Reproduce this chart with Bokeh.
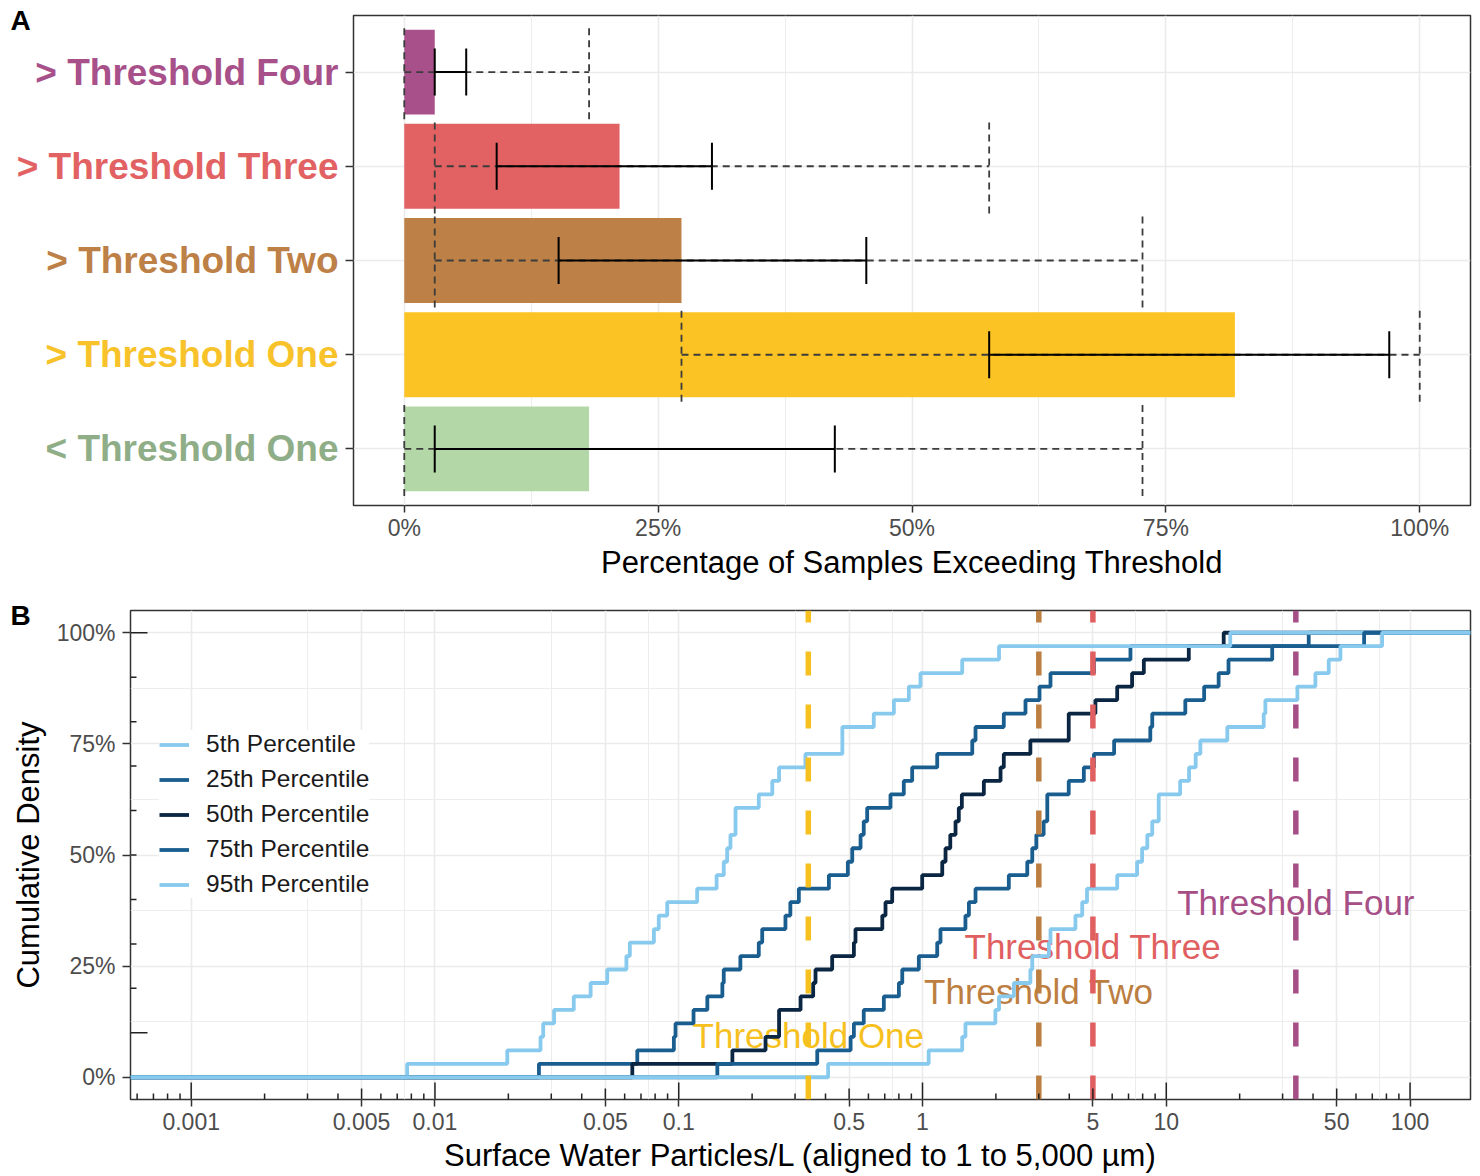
import numpy as np
from bokeh.plotting import figure
from bokeh.models import (Range1d, FixedTicker, Legend, LegendItem,
                          CustomJSTickFormatter)
from bokeh.layouts import column, row
from bokeh.embed import file_html
from bokeh.resources import INLINE
from bokeh.core.properties import value

FONT = "Liberation Sans"

# ---------------- Panel A data ----------------
categories = ["> Threshold Four", "> Threshold Three", "> Threshold Two",
              "> Threshold One", "< Threshold One"]          # top to bottom
bar_pct   = [3.0, 21.2, 27.3, 81.8, 18.2]
iqr_lo    = [3.0, 9.1, 15.2, 57.6, 3.0]
iqr_hi    = [6.1, 30.3, 45.5, 97.0, 42.4]
range_lo  = [0.0, 3.0, 3.0, 27.3, 0.0]
range_hi  = [18.2, 57.6, 72.7, 100.0, 72.7]
bar_colors   = ["#A7508A", "#E26263", "#BD8046", "#FBC324", "#B4D7A8"]
label_colors = ["#A7508A", "#E26263", "#BD8046", "#F7C22A", "#8FAE87"]
a_ticks = [0, 25, 50, 75, 100]
a_minor = [12.5, 37.5, 62.5, 87.5]

# ---------------- Panel B data ----------------
threshold_names  = ["Threshold One", "Threshold Two", "Threshold Three", "Threshold Four"]
threshold_values = [0.34, 3.0, 5.0, 34.0]
threshold_label_y = [10, 20, 30, 40]
threshold_colors = ["#F6C11F", "#BC7E41", "#E05F60", "#A64F87"]

p5  = [0.00769, 0.0198, 0.0271, 0.0278, 0.0308, 0.0371, 0.0435, 0.0509, 0.061, 0.063,
       0.0791, 0.0828, 0.0897, 0.119, 0.143, 0.153, 0.158, 0.163, 0.171, 0.171,
       0.213, 0.242, 0.258, 0.331, 0.469, 0.469, 0.631, 0.763, 0.879, 0.981,
       1.455, 2.06, 18.3]
p25 = [0.0267, 0.0676, 0.0955, 0.097, 0.115, 0.131, 0.151, 0.153, 0.179, 0.213,
       0.22, 0.274, 0.287, 0.311, 0.413, 0.494, 0.515, 0.557, 0.574, 0.593,
       0.739, 0.838, 0.907, 1.149, 1.60, 1.65, 2.155, 2.645, 3.02, 3.35,
       5.05, 7.13, 38.4]
p50 = [0.0645, 0.166, 0.227, 0.258, 0.258, 0.316, 0.356, 0.364, 0.426, 0.523,
       0.531, 0.684, 0.705, 0.751, 0.997, 1.205, 1.243, 1.30, 1.366, 1.409,
       1.45, 1.785, 2.09, 2.155, 2.77, 3.98, 3.98, 5.12, 6.29, 7.24,
       8.09, 12.37, 17.2]
p75 = [0.144, 0.370, 0.507, 0.523, 0.574, 0.694, 0.80, 0.826, 0.966, 1.149,
       1.185, 1.50, 1.55, 1.65, 2.26, 2.69, 2.82, 2.93, 3.14, 3.25,
       3.25, 3.98, 4.59, 5.05, 6.11, 8.6, 8.76, 11.97, 14.3, 16.4,
       18.0, 27.2, 64.8]
p95 = [0.41, 1.06, 1.455, 1.50, 1.99, 2.06, 2.37, 2.77, 2.82, 3.30,
       3.35, 4.24, 4.52, 4.73, 6.29, 7.59, 7.96, 8.36, 8.76, 9.31,
       9.31, 11.4, 12.4, 13.2, 13.8, 17.8, 25.1, 25.5, 34.5, 40.9,
       46.4, 51.8, 76.8]
series_names  = ["5th Percentile", "25th Percentile", "50th Percentile",
                 "75th Percentile", "95th Percentile"]
series_values = [p5, p25, p50, p75, p95]
series_colors = ["#88C9EE", "#1A5E90", "#0B2642", "#1A5E90", "#88C9EE"]
draw_order = [1, 2, 0, 3, 4]

b_xticks = [0.001, 0.005, 0.01, 0.05, 0.1, 0.5, 1, 5, 10, 50, 100]
b_xminor = [0.003, 0.0075, 0.03, 0.075, 0.3, 0.75, 3, 7.5, 30, 75]
b_yticks = [0, 25, 50, 75, 100]
b_yminor = [12.5, 37.5, 62.5, 87.5]
b_yinner = [10, 20, 30, 40, 50, 60, 70, 80, 90, 100]
b_ytitle = "Cumulative Density"

GRID = "#EBEBEB"
DARK = "#333333"
TICKTXT = "#4D4D4D"
W = 1478


def no_frame_align(p):
    try:
        p.frame_align = False
    except Exception:
        pass


def strip(width, height, ylo_, yhi_):
    """A text strip whose frame is its whole canvas."""
    s = figure(width=width, height=height, output_backend="svg", toolbar_location=None,
               x_range=Range1d(0, width), y_range=Range1d(ylo_, yhi_),
               x_axis_location=None, y_axis_location=None,
               min_border_left=0, min_border_right=0, min_border_top=0,
               min_border_bottom=0)
    no_frame_align(s)
    s.outline_line_color = None
    s.grid.visible = False
    s.background_fill_color = "white"
    s.border_fill_color = "white"
    return s


# ================= Panel A =================
HA = 592
LAB_W = 340
A_LEFT, A_TOP, A_FW, A_FH = 13, 15, 1117, 490
n = len(categories)
ypos = [n - i for i in range(n)]
ax_lo, ax_hi = -5, 105
ay_lo, ay_hi = 0.4, n + 0.6
pA = figure(width=W - LAB_W, height=HA, output_backend="svg", toolbar_location=None,
            x_range=Range1d(ax_lo, ax_hi), y_range=Range1d(ay_lo, ay_hi),
            min_border_left=A_LEFT, min_border_right=W - LAB_W - A_LEFT - A_FW,
            min_border_top=A_TOP, min_border_bottom=HA - A_TOP - A_FH)
no_frame_align(pA)
pA.outline_line_color = DARK
pA.outline_line_width = 1.5
pA.background_fill_color = "white"
pA.border_fill_color = "white"

pA.xaxis.ticker = FixedTicker(ticks=a_ticks, minor_ticks=a_minor)
pA.xgrid.ticker = FixedTicker(ticks=a_ticks, minor_ticks=a_minor)
pA.xgrid.grid_line_color = GRID
pA.xgrid.grid_line_width = 1.6
pA.xgrid.minor_grid_line_color = GRID
pA.xgrid.minor_grid_line_width = 0.9
pA.yaxis.ticker = FixedTicker(ticks=ypos)
pA.ygrid.ticker = FixedTicker(ticks=ypos)
pA.ygrid.grid_line_color = GRID
pA.ygrid.grid_line_width = 1.6
pA.yaxis.major_label_overrides = {y: "" for y in ypos}
pA.yaxis.major_label_standoff = 0

pA.xaxis.formatter = CustomJSTickFormatter(code="return tick + '%'")
for ax in (pA.xaxis[0], pA.yaxis[0]):
    ax.axis_line_color = None
    ax.major_tick_line_color = DARK
    ax.major_tick_line_width = 1.5
    ax.major_tick_in = 0
    ax.minor_tick_line_color = None
    ax.major_label_text_font = FONT
    ax.major_label_text_color = TICKTXT
    ax.major_label_text_font_size = "23px"
pA.xaxis.major_tick_out = 7
pA.yaxis.major_tick_out = 8
pA.xaxis.major_label_standoff = 2
pA.xaxis.axis_label = "Percentage of Samples Exceeding Threshold"
pA.xaxis.axis_label_text_font = FONT
pA.xaxis.axis_label_text_font_size = "31px"
pA.xaxis.axis_label_text_font_style = "normal"
pA.xaxis.axis_label_text_color = "black"
pA.xaxis.axis_label_standoff = 1

pA.hbar(y=ypos, left=0, right=bar_pct, height=0.9, fill_color=bar_colors,
        line_color=None)
# full range (dashed)
pA.segment(x0=range_lo, y0=ypos, x1=range_hi, y1=ypos, line_color="#3C3C3C",
           line_width=1.8, line_dash="7 5")
for xs in (range_lo, range_hi):
    pA.segment(x0=xs, y0=[y - 0.5 for y in ypos], x1=xs, y1=[y + 0.5 for y in ypos],
               line_color="#3C3C3C", line_width=1.8, line_dash="7 5")
# inter-quartile (solid)
pA.segment(x0=iqr_lo, y0=ypos, x1=iqr_hi, y1=ypos, line_color="black", line_width=2)
for xs in (iqr_lo, iqr_hi):
    pA.segment(x0=xs, y0=[y - 0.25 for y in ypos], x1=xs, y1=[y + 0.25 for y in ypos],
               line_color="black", line_width=2)

# label strip sharing panel A's vertical scale
a_px_y = A_FH / (ay_hi - ay_lo)
pLab = strip(LAB_W, HA, ay_lo - (HA - A_TOP - A_FH) / a_px_y, ay_hi + A_TOP / a_px_y)
pLab.text(x=[LAB_W - 2] * n, y=ypos, text=categories, text_color=label_colors,
          text_align="right", text_baseline="middle", text_font=value(FONT),
          text_font_size="37px", text_font_style="bold")
pLab.text(x=[10], y=[ay_hi - (20 - A_TOP) / a_px_y], text=["A"], text_color="black",
          text_align="left", text_baseline="middle", text_font=value(FONT),
          text_font_size="28px", text_font_style="bold")

# ================= Panel B =================
BL_W = 50
B_LEFT, B_TOP, B_FW, B_FH, B_BOT = 80, 18, 1340, 489, 76
HB = B_TOP + B_FH + B_BOT
WB = W - BL_W
xlo, xhi = 10 ** -3.249, 10 ** 2.248
ylo, yhi = -5, 105
pB = figure(width=WB, height=HB, output_backend="svg", toolbar_location=None,
            x_axis_type="log", x_range=Range1d(xlo, xhi), y_range=Range1d(ylo, yhi),
            min_border_left=B_LEFT, min_border_right=WB - B_LEFT - B_FW,
            min_border_top=B_TOP, min_border_bottom=B_BOT)
no_frame_align(pB)
pB.outline_line_color = DARK
pB.outline_line_width = 1.5
pB.background_fill_color = "white"
pB.border_fill_color = "white"

pB.xaxis.ticker = FixedTicker(ticks=b_xticks, minor_ticks=b_xminor)
pB.xgrid.ticker = FixedTicker(ticks=b_xticks, minor_ticks=b_xminor)
pB.yaxis.ticker = FixedTicker(ticks=b_yticks, minor_ticks=b_yminor)
pB.ygrid.ticker = FixedTicker(ticks=b_yticks, minor_ticks=b_yminor)
for g in (pB.xgrid[0], pB.ygrid[0]):
    g.grid_line_color = GRID
    g.grid_line_width = 1.6
    g.minor_grid_line_color = GRID
    g.minor_grid_line_width = 0.9
pB.xaxis.formatter = CustomJSTickFormatter(code="return tick.toString()")
pB.yaxis.formatter = CustomJSTickFormatter(code="return tick + '%'")
for ax in (pB.xaxis[0], pB.yaxis[0]):
    ax.axis_line_color = None
    ax.major_tick_line_color = DARK
    ax.major_tick_line_width = 1.5
    ax.major_tick_in = 0
    ax.minor_tick_line_color = None
    ax.major_label_text_font = FONT
    ax.major_label_text_color = TICKTXT
    ax.major_label_text_font_size = "23px"
    ax.axis_label_text_font = FONT
    ax.axis_label_text_font_size = "31px"
    ax.axis_label_text_font_style = "normal"
    ax.axis_label_text_color = "black"
pB.xaxis.major_tick_out = 7
pB.xaxis.major_label_standoff = 6
pB.xaxis.axis_label = "Surface Water Particles/L (aligned to 1 to 5,000 \u00b5m)"
pB.xaxis.axis_label_standoff = 5
pB.yaxis.major_tick_out = 8
pB.yaxis.major_label_standoff = 7

# threshold labels (under the curves)
pB.text(x=threshold_values, y=threshold_label_y, text=threshold_names,
        text_align="center", text_baseline="middle", text_font=value(FONT),
        text_font_size="35px", text_color=threshold_colors, y_offset=3)

# ECDF curves
nn = len(p5)
renderers = {}
for idx in draw_order:
    vals = sorted(series_values[idx])
    xs = [xlo] + vals + [xhi]
    ys = [0] + [100.0 * (k + 1) / nn for k in range(nn)] + [100]
    r = pB.step(x=xs, y=ys, mode="after", line_width=3.8, line_color=series_colors[idx])
    renderers[idx] = r

# threshold lines
pB.segment(x0=threshold_values, y0=ylo, x1=threshold_values, y1=yhi,
           line_color=threshold_colors, line_width=5.5, line_dash="24 29")

# log tick annotations along the bottom and left
px_per_y = B_FH / (yhi - ylo)
px_per_dec = B_FW / (np.log10(xhi) - np.log10(xlo))
lt_x, lt_len = [], []
for k in range(-4, 3):
    for m in range(1, 10):
        v = m * 10.0 ** k
        if xlo <= v <= xhi:
            lt_x.append(v)
            lt_len.append(17 if m == 1 else (11 if m == 5 else 6))
pB.segment(x0=lt_x, y0=[ylo] * len(lt_x), x1=lt_x,
           y1=[ylo + L / px_per_y for L in lt_len], line_color="#222222", line_width=1.5)
yl_len = [17 if (v in (10, 100)) else 6 for v in b_yinner]
pB.segment(x0=[xlo] * len(b_yinner), y0=b_yinner,
           x1=[xlo * 10 ** (L / px_per_dec) for L in yl_len], y1=b_yinner,
           line_color="#222222", line_width=1.5)

legend = Legend(items=[LegendItem(label=series_names[i], renderers=[renderers[i]])
                       for i in range(5)],
                location=(29, 201), orientation="vertical")
legend.background_fill_color = "white"
legend.background_fill_alpha = 1.0
legend.border_line_color = None
legend.label_text_font = FONT
legend.label_text_font_size = "24.5px"
legend.label_text_color = "#1a1a1a"
legend.glyph_width = 30
legend.glyph_height = 25
legend.label_height = 25
legend.spacing = 7
legend.padding = 24
legend.label_standoff = 17
legend.margin = 0
pB.add_layout(legend)

# strip left of panel B: panel tag and y-axis title, on panel B's vertical scale
pBL = strip(BL_W, HB, ylo - B_BOT / px_per_y, yhi + B_TOP / px_per_y)
pBL.text(x=[28], y=[(ylo + yhi) / 2], text=[b_ytitle], angle=np.pi / 2,
         text_align="center", text_baseline="middle", text_font=value(FONT),
         text_font_size="31px", text_color="black")
pBL.text(x=[10], y=[yhi - (615 - HA - B_TOP) / px_per_y], text=["B"],
         text_color="black", text_align="left", text_baseline="middle",
         text_font=value(FONT), text_font_size="28px", text_font_style="bold")

layout = column(row(pLab, pA, spacing=0), row(pBL, pB, spacing=0), spacing=0)
open("out.html", "w").write(file_html(layout, INLINE))
